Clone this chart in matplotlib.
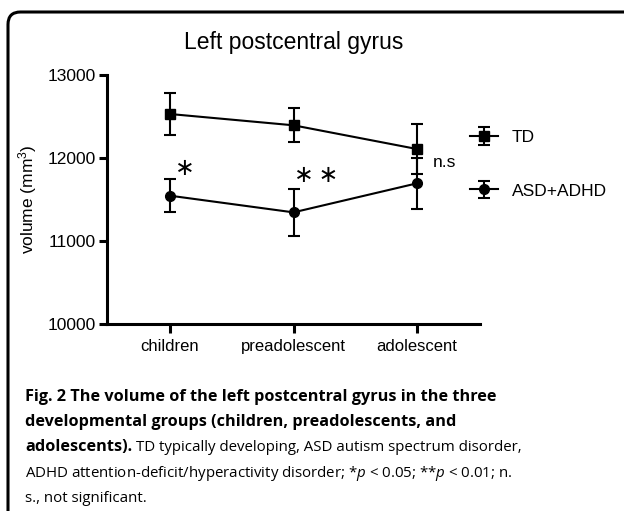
import matplotlib
matplotlib.use("Agg")
import matplotlib.pyplot as plt
from matplotlib.patches import FancyBboxPatch

# ---- data ----
groups = ["children", "preadolescent", "adolescent"]
td_mean = [12530, 12394, 12108]
td_err = [250, 205, 300]
asd_mean = [11546, 11345, 11695]
asd_err = [195, 280, 305]
yticks = [10000, 11000, 12000, 13000]
series_labels = ["TD", "ASD+ADHD"]
title = "Left postcentral gyrus"
ylabel = "volume (mm$^{3}$)"
sig_marks = ["\u2217", "\u2217\u2009\u2217", "n.s"]
sig_x = [0.12, 1.18, 2.13]
sig_y = [11880, 11795, 11940]

W, H = 624, 511
plt.rcParams["font.family"] = ["Liberation Sans", "DejaVu Sans"]
plt.rcParams["mathtext.fontset"] = "custom"
plt.rcParams["mathtext.rm"] = "Liberation Sans"
plt.rcParams["mathtext.it"] = "Open Sans:italic"
plt.rcParams["mathtext.default"] = "regular"
fig = plt.figure(figsize=(W / 100, H / 100), dpi=100)

# border box (rounded, cropped right/bottom)
box = FancyBboxPatch((8 / W, 1 - 12 / H - 1.2), 1.3, 1.2,
                     boxstyle="round,pad=0,rounding_size=0.02",
                     transform=fig.transFigure, fill=False, lw=2.2,
                     edgecolor="black", mutation_aspect=W / H)
fig.patches.append(box)

ax = fig.add_axes([107 / W, 1 - 324 / H, (480 - 107) / W, (324 - 75) / H])
x = list(range(len(groups)))
ax.errorbar(x, td_mean, yerr=td_err, color="black", marker="s", ms=7,
            lw=1.5, elinewidth=1.5, capsize=4.3, capthick=1.5, label=series_labels[0])
ax.errorbar(x, asd_mean, yerr=asd_err, color="black", marker="o", ms=7,
            lw=1.5, elinewidth=1.5, capsize=4.3, capthick=1.5, label=series_labels[1])

ax.set_xlim(-0.51, 2.51)
ax.set_ylim(10000, 13000)
ax.set_xticks(x)
ax.set_xticklabels(groups, fontsize=12)
ax.set_yticks(yticks)
ax.set_yticklabels([str(v) for v in yticks], fontsize=12.5)
for s in ["top", "right"]:
    ax.spines[s].set_visible(False)
for s in ["left", "bottom"]:
    ax.spines[s].set_linewidth(2.2)
ax.tick_params(axis="y", width=2.2, length=6, pad=2)
ax.tick_params(axis="x", width=2.2, length=6.5, pad=4)
ax.set_ylabel(ylabel, fontsize=12.5, labelpad=6)
ax.set_title(title, fontsize=16.5, pad=19)

for t, xx, yy in zip(sig_marks, sig_x, sig_y):
    if t == "n.s":
        ax.text(xx, yy, t, fontsize=12.5, ha="left", va="center")
    else:
        ax.text(xx, yy, t, fontsize=17, ha="center", va="center",
                family=["DejaVu Sans"], color="black")

fig.legend(loc="upper left", bbox_to_anchor=(470 / W, 1 - 130 / H),
           frameon=False, fontsize=12.5, handlelength=1.6, handletextpad=0.8,
           labelspacing=2.2, borderpad=0, borderaxespad=0)

# caption
cap_font = ["Open Sans", "DejaVu Sans"]
cx = 25 / W
lines_y = [397, 422, 447, 473, 498]
fs_cap = 11.7
fig.text(cx, 1 - lines_y[0] / H, "Fig. 2 The volume of the left postcentral gyrus in the three",
         fontsize=fs_cap, fontweight="bold", family=cap_font, va="center")
fig.text(cx, 1 - lines_y[1] / H, "developmental groups (children, preadolescents, and",
         fontsize=fs_cap, fontweight="bold", family=cap_font, va="center")
tb = fig.text(cx, 1 - lines_y[2] / H, "adolescents).",
              fontsize=fs_cap, fontweight="bold", family=cap_font, va="center")
fig.canvas.draw()
bb = tb.get_window_extent(renderer=fig.canvas.get_renderer())
fs_reg = 10.8
fig.text(bb.x1 / W + 4 / W, 1 - lines_y[2] / H,
         "TD typically developing, ASD autism spectrum disorder,",
         fontsize=fs_reg, family=cap_font, va="center")
fig.text(cx, 1 - lines_y[3] / H,
         "ADHD attention-deficit/hyperactivity disorder; *$\\it{p}$ < 0.05; **$\\it{p}$ < 0.01; n.",
         fontsize=fs_reg, family=cap_font, va="center")
fig.text(cx, 1 - lines_y[4] / H, "s., not significant.",
         fontsize=fs_reg, family=cap_font, va="center")

fig.savefig("out.png", dpi=100)
